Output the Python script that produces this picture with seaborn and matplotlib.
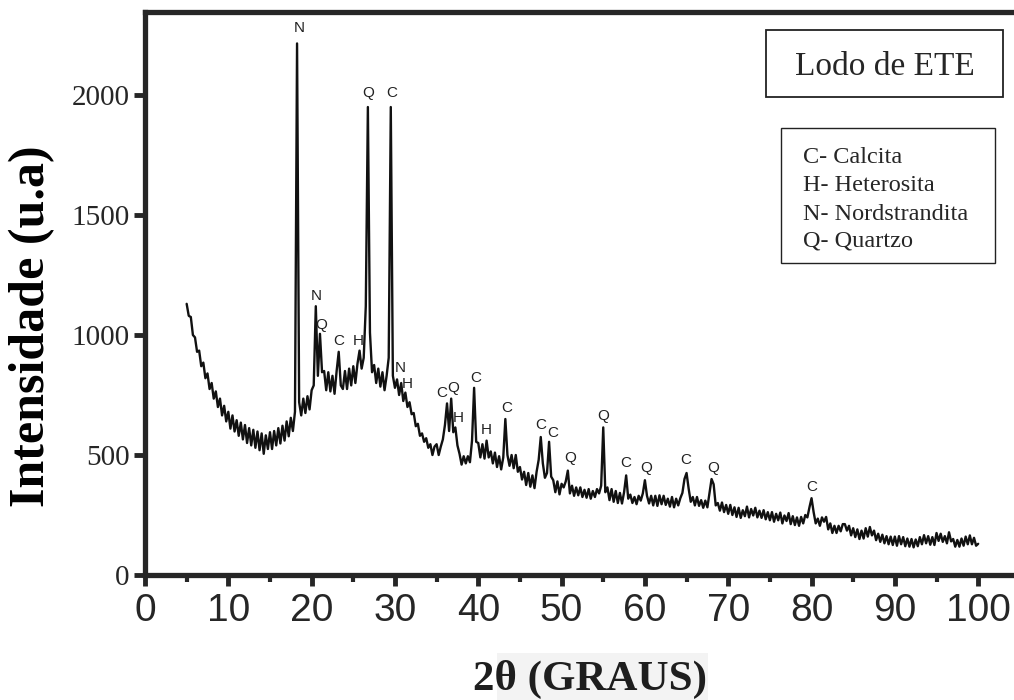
import numpy as np
import pandas as pd
import seaborn as sns
import matplotlib.pyplot as plt
from matplotlib.patches import Rectangle
from matplotlib.ticker import MultipleLocator

# diffractogram, 2theta from 5 to 100 deg, step 0.25 (one row = one degree)
counts = [
    1130, 1080, 1075, 1000,   # 5
    990, 930, 935, 870,       # 6
    885, 820, 840, 775,       # 7
    800, 735, 765, 700,       # 8
    735, 665, 705, 640,       # 9
    680, 610, 665, 598,       # 10
    645, 580, 635, 565,       # 11
    625, 550, 612, 540,       # 12
    605, 530, 598, 520,       # 13
    590, 505, 582, 525,       # 14
    595, 525, 600, 540,       # 15
    612, 548, 622, 560,       # 16
    640, 578, 655, 600,       # 17
    680, 2215, 720, 665,      # 18
    735, 675, 745, 690,       # 19
    770, 790, 1120, 830,      # 20
    1005, 845, 850, 770,      # 21
    845, 765, 830, 755,       # 22
    850, 930, 790, 775,       # 23
    850, 775, 860, 790,       # 24
    870, 800, 880, 935,       # 25
    860, 905, 1120, 1950,     # 26
    1010, 845, 875, 800,      # 27
    860, 785, 845, 770,       # 28
    830, 905, 1950, 830,      # 29
    780, 815, 750, 800,       # 30
    725, 760, 700, 720,       # 31
    670, 675, 620, 630,       # 32
    580, 590, 555, 570,       # 33
    530, 545, 500, 535,       # 34
    545, 500, 535, 565,       # 35
    625, 715, 600, 735,       # 36
    595, 615, 540, 505,       # 37
    460, 495, 465, 495,       # 38
    470, 560, 780, 555,       # 39
    550, 490, 545, 485,       # 40
    560, 490, 515, 465,       # 41
    510, 450, 495, 440,       # 42
    490, 650, 500, 455,       # 43
    500, 445, 500, 430,       # 44
    450, 398, 430, 375,       # 45
    425, 368, 415, 362,       # 46
    430, 480, 575, 465,       # 47
    405, 425, 555, 410,       # 48
    395, 345, 390, 336,       # 49
    380, 365, 390, 435,       # 50
    340, 372, 330, 365,       # 51
    332, 365, 325, 355,       # 52
    322, 358, 318, 350,       # 53
    325, 358, 340, 372,       # 54
    615, 345, 365, 312,       # 55
    358, 305, 350, 300,       # 56
    342, 298, 345, 415,       # 57
    318, 335, 300, 325,       # 58
    295, 330, 310, 340,       # 59
    395, 330, 298, 330,       # 60
    290, 330, 288, 332,       # 61
    295, 330, 292, 318,       # 62
    285, 325, 282, 318,       # 63
    290, 320, 342, 400,       # 64
    425, 360, 305, 325,       # 65
    290, 325, 288, 312,       # 66
    280, 310, 282, 340,       # 67
    400, 378, 290, 300,       # 68
    268, 302, 262, 292,       # 69
    255, 292, 250, 282,       # 70
    242, 280, 238, 270,       # 71
    245, 285, 240, 275,       # 72
    248, 280, 240, 268,       # 73
    238, 270, 232, 262,       # 74
    228, 262, 222, 255,       # 75
    228, 260, 215, 248,       # 76
    225, 258, 212, 245,       # 77
    208, 240, 205, 242,       # 78
    215, 250, 240, 282,       # 79
    320, 262, 215, 235,       # 80
    205, 240, 222, 242,       # 81
    190, 215, 175, 205,       # 82
    175, 205, 182, 212,       # 83
    212, 185, 205, 165,       # 84
    195, 158, 190, 150,       # 85
    185, 152, 195, 160,       # 86
    200, 165, 185, 145,       # 87
    172, 138, 168, 132,       # 88
    162, 128, 160, 125,       # 89
    160, 122, 162, 128,       # 90
    158, 120, 152, 118,       # 91
    150, 115, 148, 120,       # 92
    158, 128, 166, 132,       # 93
    162, 126, 158, 125,       # 94
    175, 142, 172, 138,       # 95
    162, 132, 178, 140,       # 96
    150, 118, 146, 118,       # 97
    152, 122, 160, 128,       # 98
    165, 128, 155, 122,       # 99
    130,                      # 100
]
two_theta = np.linspace(5, 100, len(counts))

# phase labels over the peaks
peak_letters = ['N', 'Q', 'C', 'N', 'Q', 'C', 'H', 'N', 'H',
                'C', 'Q', 'H', 'C', 'H', 'C', 'C', 'C', 'Q',
                'Q', 'C', 'Q', 'C', 'Q', 'C']
peak_x = [18.5, 26.8, 29.6, 20.6, 21.2, 23.3, 25.6, 30.6, 31.5,
          35.6, 37.0, 37.6, 39.7, 41.0, 43.4, 47.5, 48.9, 51.0,
          55.0, 57.7, 60.2, 64.9, 68.2, 80.0]
peak_y = [2279, 2008, 2008, 1162, 1042, 975, 975, 862, 796,
          758, 779, 654, 821, 604, 696, 625, 592, 487,
          662, 467, 446, 479, 446, 367]

phases = ['C- Calcita', 'H- Heterosita', 'N- Nordstrandita', 'Q- Quartzo']

sns.set_style('ticks')
plt.rcParams['font.family'] = ['Liberation Serif', 'DejaVu Serif']

df = pd.DataFrame({'2theta': two_theta, 'I': counts})

fig = plt.figure(figsize=(10.14, 7.0), dpi=100)
ax = fig.add_axes([145 / 1014, 125 / 700, 869 / 1014, 563 / 700])
sns.lineplot(data=df, x='2theta', y='I', ax=ax, color='#111111', linewidth=1.7)

for lt, px, py in zip(peak_letters, peak_x, peak_y):
    ax.text(px, py, lt, ha='center', va='center', fontsize=11,
            family='Liberation Sans', color='#222222')

ax.set_xlim(0, 104.3)
ax.set_ylim(0, 2346)
ax.xaxis.set_major_locator(MultipleLocator(10))
ax.xaxis.set_minor_locator(MultipleLocator(5))
ax.set_yticks([0, 500, 1000, 1500, 2000])

for s in ['left', 'bottom', 'top']:
    ax.spines[s].set_linewidth(3.8)
ax.spines['right'].set_visible(False)

ax.tick_params(axis='x', which='major', length=8, width=3.5, direction='out',
               labelsize=28, pad=5)
ax.tick_params(axis='x', which='minor', length=5, width=3, direction='out')
ax.tick_params(axis='y', length=8, width=3.5, direction='out', labelsize=21, pad=3)
for lab in ax.get_xticklabels():
    lab.set_family('Liberation Sans')

ax.set_xlabel('')
ax.set_ylabel('')

# axis titles
fig.add_artist(Rectangle((497 / 1014, 0), 211 / 1014, 47 / 700,
                         transform=fig.transFigure, facecolor='#f3f3f3',
                         edgecolor='none', zorder=0))
fig.text(590 / 1014, 1 - 690 / 700, '2θ (GRAUS)', ha='center', va='baseline',
         fontsize=31, fontweight='bold', color='#1e1e1e', zorder=2)
fig.text(32 / 1014, 1 - 326 / 700, 'Intensidade (u.a)', ha='center', va='center',
         rotation=90, fontsize=36, fontweight='bold', color='black')

# title box and phase key
ax.add_patch(Rectangle((0.7146, 0.849), 0.2727, 0.119, transform=ax.transAxes,
                       facecolor='white', edgecolor='#222222', linewidth=1.3,
                       zorder=5))
ax.text(0.851, 0.888, 'Lodo de ETE', transform=ax.transAxes, ha='center',
        va='baseline', fontsize=24, zorder=6)
ax.add_patch(Rectangle((0.7319, 0.5542), 0.2463, 0.2398, transform=ax.transAxes,
                       facecolor='white', edgecolor='#222222', linewidth=1.0,
                       zorder=5))
for txt, yb in zip(phases, [0.7318, 0.682, 0.630, 0.5826]):
    ax.text(0.757, yb, txt, transform=ax.transAxes, ha='left', va='baseline',
            fontsize=17.5, zorder=6)

fig.savefig('out.png', dpi=100)
